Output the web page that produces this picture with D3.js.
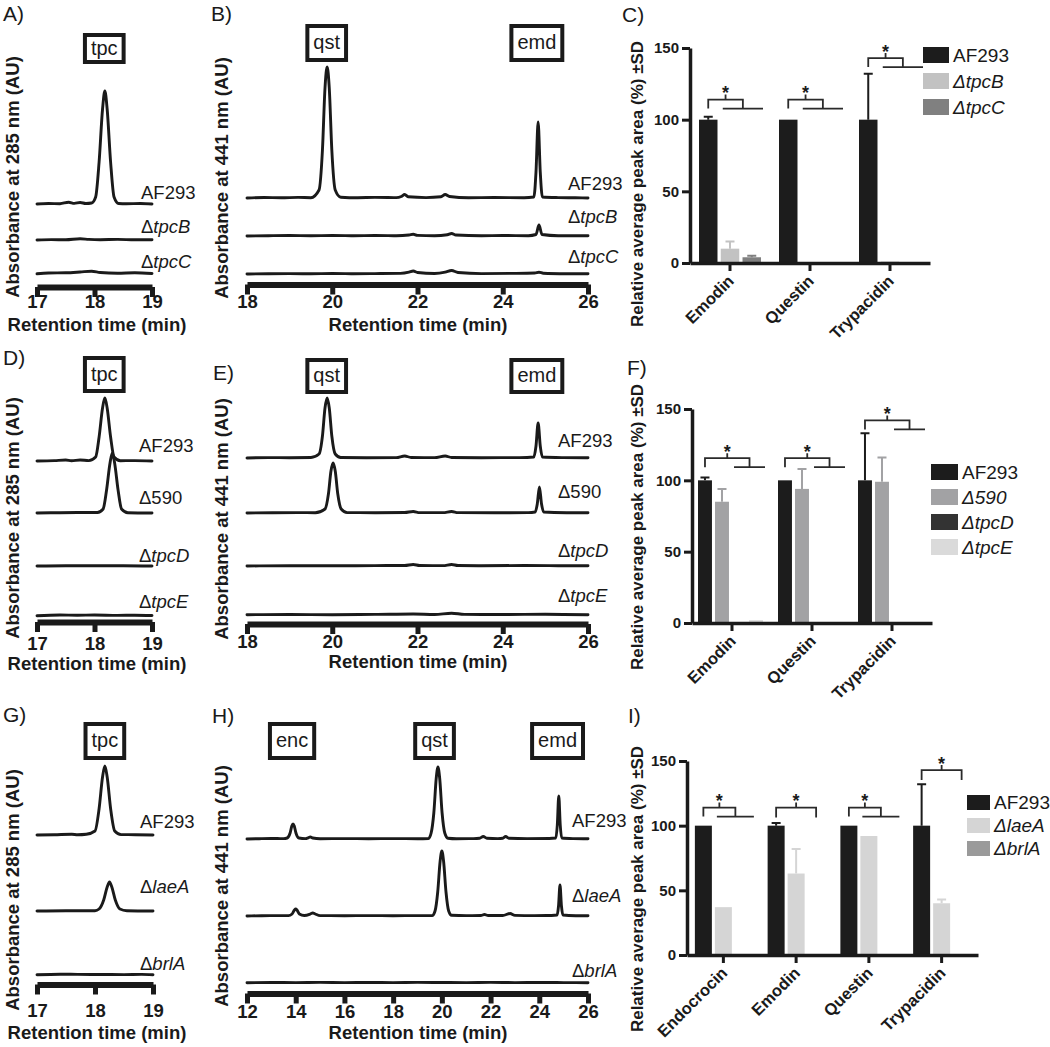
<!DOCTYPE html>
<html><head><meta charset="utf-8">
<script src="https://cdn.jsdelivr.net/npm/d3@7"></script>
<style>
body{margin:0;background:#fff;}
svg text{font-family:"Liberation Sans",Arial,Helvetica,sans-serif;fill:#1a1a1a;}
</style></head><body>
<svg id="c" width="1050" height="1047"></svg>
<script>
// ================= DATA =================
// Chromatogram axis ticks (retention time, min)
const ticksTpc = [17, 18, 19];
const ticksLong = [18, 20, 22, 24, 26];
const ticksH = [12, 14, 16, 18, 20, 22, 24, 26];

// Panel A (285 nm) traces: [time (min), absorbance (arb. units)]
const A_AF293 = [[17,0],[17.2,0.5],[17.4,0.3],[17.55,1.8],[17.65,0.6],[17.75,1.5],[17.85,0.5],[17.95,1],[18.02,7],[18.08,42],[18.14,95],[18.18,113],[18.22,95],[18.28,42],[18.34,7],[18.42,0.5],[18.55,0.3],[18.8,0.5],[19,0]];
const A_tpcB = [[17,0],[17.25,0.4],[17.5,0.2],[17.75,1.2],[17.9,0.6],[18.1,0.3],[18.4,0.6],[18.7,0.2],[19,0.3]];
const A_tpcC = [[17,0.2],[17.2,1],[17.5,1.2],[17.75,2],[17.95,2.8],[18.1,1.5],[18.4,0.8],[18.7,1.2],[19,0.5]];

// Panel B (441 nm)
const B_AF293 = [[18,0],[18.4,0.5],[18.8,0.2],[19.2,0.6],[19.5,0.3],[19.69,8],[19.77,48],[19.83,110],[19.88,131],[19.93,110],[19.99,48],[20.07,8],[20.2,0.8],[20.6,0.3],[21,0.6],[21.5,0.4],[21.62,1.5],[21.7,3.5],[21.78,1.2],[22.2,0.4],[22.55,1.2],[22.65,3.5],[22.75,1.5],[23.2,0.3],[23.8,0.5],[24.5,0.3],[24.73,1],[24.78,26],[24.83,76],[24.88,26],[24.93,1],[25.3,0.4],[25.7,0.2],[26,0]];
const B_tpcB = [[18,0],[18.5,0.3],[19,0.5],[19.5,0.2],[20,0.5],[20.5,0.3],[21,0.5],[21.5,0.3],[21.8,1],[21.9,1.8],[22,0.6],[22.4,0.3],[22.7,1.2],[22.8,2.5],[22.9,1],[23.5,0.3],[24,0.5],[24.6,0.3],[24.78,1.5],[24.85,11],[24.92,1.5],[25.3,0.3],[26,0.2]];
const B_tpcC = [[18,0],[18.5,0.3],[19,0.4],[19.5,0.2],[20,0.5],[20.5,0.3],[21,0.4],[21.6,0.6],[21.8,1.8],[21.9,3],[22,1.5],[22.4,0.5],[22.65,1.8],[22.8,3.5],[22.95,1.5],[23.5,0.4],[24.2,0.6],[24.75,1],[24.85,1.8],[24.95,0.8],[25.5,0.3],[26,0.2]];

// Panel D (285 nm)
const D_AF293 = [[17,0],[17.3,0.4],[17.5,1],[17.6,0.3],[17.75,1],[17.9,0.4],[18.02,4],[18.08,24],[18.14,53],[18.18,63],[18.22,53],[18.28,24],[18.34,4],[18.45,0.3],[18.7,0.4],[19,0]];
const D_590 = [[17,0],[17.4,0.3],[17.8,0.5],[18.05,0.5],[18.15,4],[18.21,23],[18.27,50],[18.31,60],[18.35,50],[18.41,23],[18.47,4],[18.58,0.3],[19,0]];
const D_tpcD = [[17,0],[17.5,0.3],[18,0.2],[18.5,0.3],[19,0]];
const D_tpcE = [[17,0.3],[17.4,1],[17.7,0.8],[18,1],[18.4,0.6],[18.7,0.8],[19,0.5]];

// Panel E (441 nm)
const E_AF293 = [[18,0],[18.5,0.4],[19,0.3],[19.5,0.5],[19.69,4],[19.77,22],[19.83,50],[19.88,60],[19.93,50],[19.99,22],[20.07,4],[20.2,0.5],[20.8,0.3],[21.5,0.4],[21.7,2],[21.85,0.5],[22.4,0.4],[22.65,2],[22.8,0.5],[23.5,0.3],[24.4,0.4],[24.73,1],[24.78,12],[24.83,35],[24.88,12],[24.93,1],[25.4,0.4],[26,0.2]];
const E_590 = [[18,0],[18.6,0.3],[19.2,0.4],[19.6,0.3],[19.83,4],[19.91,19],[19.97,42],[20.02,50],[20.07,42],[20.13,19],[20.21,4],[20.35,0.4],[21,0.3],[21.7,0.5],[21.9,1.5],[22.05,0.4],[22.6,0.4],[22.8,1.5],[22.95,0.4],[23.8,0.3],[24.6,0.4],[24.76,1],[24.81,9],[24.86,26],[24.91,9],[24.96,1],[25.5,0.3],[26,0.2]];
const E_tpcD = [[18,0],[19,0.3],[20,0.2],[21,0.4],[21.7,0.5],[21.9,1.5],[22.05,0.5],[22.6,0.4],[22.8,1.5],[22.95,0.5],[23.5,0.3],[24.5,0.5],[25.3,0.3],[26,0.2]];
const E_tpcE = [[18,0.3],[19,0.5],[20,0.3],[21,0.6],[21.9,1],[22.4,0.5],[22.8,1.8],[23.1,0.6],[24,0.5],[25,0.8],[26,0.3]];

// Panel G (285 nm)
const G_AF293 = [[17,0],[17.3,0.3],[17.6,0.8],[17.7,0.3],[17.85,0.8],[18,4],[18.07,26],[18.13,58],[18.17,69],[18.21,58],[18.27,26],[18.34,4],[18.45,0.4],[18.7,0.3],[19,0]];
const G_laeA = [[17,0],[17.5,0.3],[18,0.3],[18.07,2],[18.15,11],[18.21,24],[18.25,29],[18.29,24],[18.35,11],[18.43,2],[18.55,0.3],[19,0]];
const G_brlA = [[17,0.3],[17.4,0.8],[17.7,0.6],[18,0.5],[18.5,0.4],[18.8,0.6],[19,0.3]];

// Panel H (441 nm)
const H_AF293 = [[12,0],[12.5,0.3],[13,0.5],[13.5,0.4],[13.65,1],[13.77,6],[13.84,13],[13.89,15],[13.94,13],[14.01,6],[14.13,1],[14.4,0.4],[14.5,1],[14.6,2],[14.7,1],[15,0.3],[16,0.4],[17,0.3],[18,0.4],[19,0.3],[19.45,0.5],[19.56,6],[19.67,26],[19.77,61],[19.84,72],[19.91,61],[20.01,26],[20.12,6],[20.25,0.8],[20.6,0.3],[21.3,0.4],[21.55,0.8],[21.7,2.5],[21.85,0.8],[22.3,0.4],[22.5,0.8],[22.62,2.5],[22.75,0.8],[23.5,0.4],[24.4,0.5],[24.68,1],[24.74,14],[24.8,43],[24.86,14],[24.92,1],[25.4,0.4],[26,0.2]];
const H_laeA = [[12,0],[12.6,0.3],[13.2,0.4],[13.7,0.4],[13.85,2],[13.95,6],[14,7],[14.05,6],[14.15,2],[14.35,0.5],[14.6,2],[14.7,3],[14.8,2],[15,0.4],[16,0.3],[17,0.4],[18,0.3],[19,0.4],[19.6,0.4],[19.72,5],[19.83,24],[19.93,55],[20,65],[20.07,55],[20.17,24],[20.28,5],[20.4,0.7],[21,0.4],[21.6,0.5],[21.75,1.5],[21.9,0.5],[22.5,0.5],[22.8,2.5],[23,0.6],[23.8,0.4],[24.5,0.5],[24.73,1],[24.79,10],[24.85,31],[24.91,10],[24.97,1],[25.5,0.3],[26,0.2]];
const H_brlA = [[12,0.3],[13,0.5],[14,0.4],[15,0.6],[16,0.4],[17,0.5],[18,0.4],[19,0.6],[20,0.5],[21,0.4],[22,0.6],[23,0.4],[24,0.5],[25,0.4],[26,0.3]];

// Peak annotation boxes: labels and the retention time they mark
const boxTpc = ["tpc"]; const boxTpcT = [18.17];
const boxQE = ["qst", "emd"]; const boxQET = [19.87, 24.8];
const boxH = ["enc", "qst", "emd"]; const boxHT = [13.85, 19.7, 24.75];

// Bar charts: relative average peak area (%)
const barTicks = [0, 50, 100, 150];

const C_categories = ["Emodin", "Questin", "Trypacidin"];
const C_series = ["AF293", "ΔtpcB", "ΔtpcC"];
const C_AF293 = [100, 100, 100];
const C_AF293_sd = [2, 0, 32];
const C_tpcB = [10, 0, 1];
const C_tpcB_sd = [5, 0, 0];
const C_tpcC = [4, 0, 0];
const C_tpcC_sd = [1, 0, 0];
const C_sigLevel = [114, 114, 143];
const C_sigType = ["nested", "nested", "nested"];

const F_categories = ["Emodin", "Questin", "Trypacidin"];
const F_series = ["AF293", "Δ590", "ΔtpcD", "ΔtpcE"];
const F_AF293 = [100, 100, 100];
const F_AF293_sd = [2, 0, 33];
const F_590 = [85, 94, 99];
const F_590_sd = [9, 14, 17];
const F_tpcD = [0, 0, 0];
const F_tpcD_sd = [0, 0, 0];
const F_tpcE = [2, 0, 0];
const F_tpcE_sd = [0, 0, 0];
const F_sigLevel = [115.5, 115.5, 142];
const F_sigType = ["nested", "nested", "nested"];

const I_categories = ["Endocrocin", "Emodin", "Questin", "Trypacidin"];
const I_series = ["AF293", "ΔlaeA", "ΔbrlA"];
const I_AF293 = [100, 100, 100, 100];
const I_AF293_sd = [0, 2, 0, 32];
const I_laeA = [37, 63, 92, 40];
const I_laeA_sd = [0, 19, 0, 3];
const I_brlA = [0, 0, 0, 0];
const I_brlA_sd = [0, 0, 0, 0];
const I_sigLevel = [114, 114, 114, 143];
const I_sigType = ["nested", "simple", "nested", "simple"];

// ================= DRAWING =================
const INK = "#1a1a1a";
const svg = d3.select("#c");

function letter(x, y, s) {
  svg.append("text").attr("x", x).attr("y", y).attr("font-size", 21).text(s);
}

function traceLabel(g, x, y, name, size) {
  const t = g.append("text").attr("x", x).attr("y", y).attr("font-size", size);
  if (name[0] === "Δ" && /[a-z]/i.test(name.slice(1))) {
    t.append("tspan").text("Δ");
    t.append("tspan").attr("font-style", "italic").text(name.slice(1));
  } else t.text(name);
}

function chrom(o) {
  const g = svg.append("g");
  const x = d3.scaleLinear().domain(o.domain).range(o.xr);
  const y = d3.scaleLinear().domain([0, 100]).range([0, -100]);
  const line = d3.line().x(d => x(d[0])).y(d => y(d[1])).curve(d3.curveMonotoneX);
  o.traces.forEach((tr, i) => {
    g.append("path").attr("d", line(tr)).attr("transform", `translate(0,${o.bases[i]})`)
      .attr("fill", "none").attr("stroke", INK).attr("stroke-width", 2.9)
      .attr("stroke-linejoin", "round").attr("stroke-linecap", "round");
    traceLabel(g, o.labelX, o.labelYs[i], o.names[i], 18.5);
  });
  const ax = g.append("g").attr("transform", `translate(0,${o.axisY})`)
    .call(d3.axisBottom(x).tickValues(o.ticks).tickSize(10).tickSizeOuter(0).tickFormat(d3.format("d")));
  ax.attr("font-family", null).attr("font-size", null);
  ax.select(".domain").attr("stroke", INK).attr("stroke-width", 6);
  ax.selectAll(".tick line").attr("stroke", INK).attr("stroke-width", 5);
  ax.selectAll(".tick text").attr("font-size", 18.5).attr("font-weight", "bold")
    .attr("y", o.tickLabelY - o.axisY).attr("dy", 0).attr("fill", INK);
  g.append("text").attr("x", o.titleX).attr("y", o.titleY).attr("text-anchor", "middle")
    .attr("font-size", 18.5).attr("font-weight", "bold").text("Retention time (min)");
  g.append("text").attr("transform", `translate(${o.yTitle[0]},${o.yTitle[1]}) rotate(-90)`)
    .attr("text-anchor", "middle").attr("dy", "0.35em").attr("font-size", 18.5).attr("font-weight", "bold")
    .text(o.yTitleText);
  o.boxes.forEach((b, i) => {
    const cx = x(o.boxT[i]);
    const t = g.append("text").attr("x", cx).attr("y", (o.boxY[0] + o.boxY[1]) / 2 + 6)
      .attr("text-anchor", "middle").attr("font-size", 20).text(b);
    const w = t.node().getComputedTextLength() + 12;
    g.append("rect").attr("x", cx - w / 2).attr("y", o.boxY[0] + 2).attr("width", w)
      .attr("height", o.boxY[1] - o.boxY[0] - 4).attr("fill", "none").attr("stroke", INK).attr("stroke-width", 4);
  });
  letter(o.letter[0], o.letter[1], o.letter[2]);
}

function barChart(o) {
  const g = svg.append("g");
  const y = d3.scaleLinear().domain([0, 150]).range([o.y0, o.y150]);
  const xb = d3.scaleBand().domain(o.cats).range([o.xAxis, o.xEnd]);
  const idx = o.series.map((s, i) => i);
  const x1 = d3.scaleBand().domain(idx).range(o.groupRange).paddingInner(o.pad);
  const bw = x1.bandwidth();
  o.cats.forEach((c, ci) => {
    const cx = xb(c) + xb.bandwidth() / 2;
    o.series.forEach((s, si) => {
      const v = o.values[si][ci], sd = o.sds[si][ci];
      const bx = cx + x1(si);
      if (v > 0) g.append("rect").attr("x", bx).attr("y", y(v)).attr("width", bw)
        .attr("height", y(0) - y(v)).attr("fill", o.colors[si]);
      if (sd > 0) {
        const mx = bx + bw / 2;
        g.append("path").attr("d", `M${mx},${y(v)}V${y(v + sd)}M${mx - 4.5},${y(v + sd)}H${mx + 4.5}`)
          .attr("stroke", o.colors[si]).attr("stroke-width", 2).attr("fill", "none");
      }
    });
    // significance bracket
    const yU = y(o.sigLevel[ci]);
    const left = cx + x1(0) + bw / 2;
    const last = o.series.length - 1;
    let d, mid;
    if (o.sigType[ci] === "nested") {
      const ll = cx + x1(o.sigFrom) + 2;
      const lr = cx + x1(last) + bw + 2;
      const right = (ll + lr) / 2;
      const yL = yU + 9;
      d = `M${left},${yL}V${yU}H${right}V${yL}M${ll},${yL}H${lr}`;
      mid = (left + right) / 2;
    } else {
      const right = cx + x1(last) + bw / 2;
      d = `M${left},${yU + 10}V${yU}H${right}V${yU + 10}`;
      mid = (left + right) / 2;
    }
    d += `M${mid},${yU}V${yU - 5}`;
    g.append("path").attr("d", d).attr("fill", "none").attr("stroke", "#2a2a2a").attr("stroke-width", 1.8);
    g.append("text").attr("x", mid).attr("y", yU - 0.5).attr("text-anchor", "middle")
      .attr("font-size", 18).attr("font-weight", "bold").text("*");
  });
  // axes
  const ay = g.append("g").attr("transform", `translate(${o.xAxis},0)`)
    .call(d3.axisLeft(y).tickValues(barTicks).tickSize(8).tickSizeOuter(0));
  ay.attr("font-family", null).attr("font-size", null);
  ay.select(".domain").attr("stroke", INK).attr("stroke-width", 3.5);
  ay.selectAll(".tick line").attr("stroke", INK).attr("stroke-width", 3);
  ay.selectAll(".tick text").attr("font-size", 15).attr("font-weight", "bold").attr("fill", INK);
  const axx = g.append("g").attr("transform", `translate(0,${o.y0})`)
    .call(d3.axisBottom(xb).tickSize(8).tickSizeOuter(0));
  axx.attr("font-family", null).attr("font-size", null);
  axx.select(".domain").attr("stroke", INK).attr("stroke-width", 3.5);
  axx.selectAll(".tick line").attr("stroke", INK).attr("stroke-width", 3);
  axx.selectAll(".tick text").attr("font-size", 16.5).attr("font-weight", "bold").attr("fill", INK)
    .attr("x", 0).attr("y", 0).attr("dy", 0).attr("text-anchor", "end")
    .attr("transform", "translate(5,19) rotate(-45)");
  // y title
  g.append("text").attr("transform", `translate(${o.yTitle[0]},${o.yTitle[1]}) rotate(-90)`)
    .attr("text-anchor", "middle").attr("dy", "0.35em").attr("font-size", 17).attr("font-weight", "bold")
    .text("Relative average peak area (%) ±SD");
  // legend
  o.series.forEach((s, i) => {
    const ly = o.leg.y + i * o.leg.step;
    g.append("rect").attr("x", o.leg.x).attr("y", ly).attr("width", o.leg.w).attr("height", o.leg.h).attr("fill", o.colors[i]);
    g.append("text").attr("x", o.leg.x + o.leg.w + 4).attr("y", ly + o.leg.h - 1)
      .attr("font-size", 19).attr("font-style", s[0] === "Δ" ? "italic" : "normal").text(s);
  });
  letter(o.letter[0], o.letter[1], o.letter[2]);
}

const abs285 = "Absorbance at 285 nm (AU)";
const abs441 = "Absorbance at 441 nm (AU)";

chrom({domain: [17, 19], xr: [37, 152], ticks: ticksTpc, axisY: 287, tickLabelY: 308, titleX: 97, titleY: 331,
  yTitle: [13, 177], yTitleText: abs285, traces: [A_AF293, A_tpcB, A_tpcC], bases: [204, 240, 274],
  names: ["AF293", "ΔtpcB", "ΔtpcC"], labelX: 141, labelYs: [199, 233, 268],
  boxes: boxTpc, boxT: boxTpcT, boxY: [33, 64], letter: [3, 21, "A)"]});
chrom({domain: [18, 26], xr: [247, 588], ticks: ticksLong, axisY: 284.5, tickLabelY: 308, titleX: 418, titleY: 331,
  yTitle: [222, 178], yTitleText: abs441, traces: [B_AF293, B_tpcB, B_tpcC], bases: [198, 236, 274],
  names: ["AF293", "ΔtpcB", "ΔtpcC"], labelX: 568, labelYs: [190, 223, 263],
  boxes: boxQE, boxT: boxQET, boxY: [24, 62], letter: [211, 21, "B)"]});
chrom({domain: [17, 19], xr: [37, 152], ticks: ticksTpc, axisY: 622, tickLabelY: 650, titleX: 97, titleY: 670,
  yTitle: [13, 518], yTitleText: abs285, traces: [D_AF293, D_590, D_tpcD, D_tpcE], bases: [461, 513, 566, 616],
  names: ["AF293", "Δ590", "ΔtpcD", "ΔtpcE"], labelX: 139, labelYs: [452, 504, 562, 608],
  boxes: boxTpc, boxT: boxTpcT, boxY: [356, 393], letter: [3, 365, "D)"]});
chrom({domain: [18, 26], xr: [247, 588], ticks: ticksLong, axisY: 624, tickLabelY: 648, titleX: 418, titleY: 668,
  yTitle: [222, 519], yTitleText: abs441, traces: [E_AF293, E_590, E_tpcD, E_tpcE], bases: [458, 513, 566, 615],
  names: ["AF293", "Δ590", "ΔtpcD", "ΔtpcE"], labelX: 558, labelYs: [447, 498, 557, 602],
  boxes: boxQE, boxT: boxQET, boxY: [358, 394], letter: [213, 380, "E)"]});
chrom({domain: [17, 19], xr: [37, 153], ticks: ticksTpc, axisY: 984.5, tickLabelY: 1017, titleX: 97, titleY: 1039,
  yTitle: [13, 890], yTitleText: abs285, traces: [G_AF293, G_laeA, G_brlA], bases: [835, 911, 975],
  names: ["AF293", "ΔlaeA", "ΔbrlA"], labelX: 140, labelYs: [828, 893, 970],
  boxes: boxTpc, boxT: boxTpcT, boxY: [722, 760], letter: [3, 722, "G)"]});
chrom({domain: [12, 26], xr: [247, 588], ticks: ticksH, axisY: 993.5, tickLabelY: 1018, titleX: 418, titleY: 1039,
  yTitle: [222, 886], yTitleText: abs441, traces: [H_AF293, H_laeA, H_brlA], bases: [839, 916, 983],
  names: ["AF293", "ΔlaeA", "ΔbrlA"], labelX: 572, labelYs: [827, 902, 977],
  boxes: boxH, boxT: boxHT, boxY: [722, 760], letter: [212, 723, "H)"]});

barChart({cats: C_categories, series: C_series, values: [C_AF293, C_tpcB, C_tpcC],
  sds: [C_AF293_sd, C_tpcB_sd, C_tpcC_sd], colors: ["#1c1c1c", "#c2c2c2", "#808080"],
  xAxis: 690, xEnd: 930, y0: 263, y150: 48, groupRange: [-31, 31], pad: 0.15,
  sigLevel: C_sigLevel, sigType: C_sigType, sigFrom: 1,
  leg: {x: 923, y: 47, w: 26, h: 16, step: 26}, yTitle: [637, 184], letter: [622, 22, "C)"]});
barChart({cats: F_categories, series: F_series, values: [F_AF293, F_590, F_tpcD, F_tpcE],
  sds: [F_AF293_sd, F_590_sd, F_tpcD_sd, F_tpcE_sd], colors: ["#1c1c1c", "#a2a2a4", "#333333", "#dadada"],
  xAxis: 692, xEnd: 932, y0: 623, y150: 409, groupRange: [-34, 31], pad: 0.18,
  sigLevel: F_sigLevel, sigType: F_sigType, sigFrom: 2,
  leg: {x: 931, y: 464, w: 27, h: 16, step: 25}, yTitle: [637, 527], letter: [627, 375, "F)"]});
barChart({cats: I_categories, series: I_series, values: [I_AF293, I_laeA, I_brlA],
  sds: [I_AF293_sd, I_laeA_sd, I_brlA_sd], colors: ["#1c1c1c", "#d5d5d5", "#9a9a9a"],
  xAxis: 687, xEnd: 978, y0: 955, y150: 761, groupRange: [-28.5, 28.5], pad: 0.15,
  sigLevel: I_sigLevel, sigType: I_sigType, sigFrom: 1,
  leg: {x: 967, y: 795, w: 23, h: 15, step: 23}, yTitle: [637, 889], letter: [628, 723, "I)"]});
</script>
</body></html>
